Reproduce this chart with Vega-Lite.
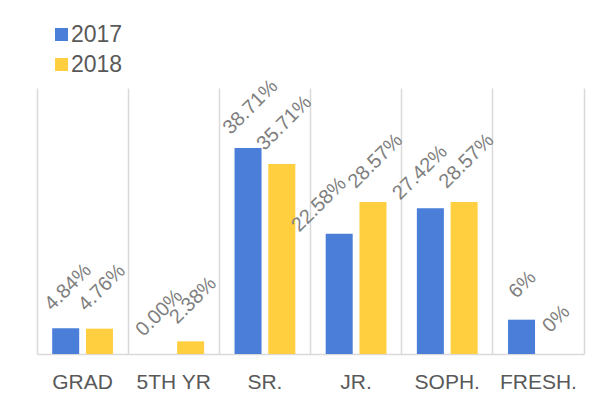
{
  "$schema": "https://vega.github.io/schema/vega-lite/v6.json",
  "width": 547,
  "height": 266,
  "autosize": {"type": "none"},
  "padding": {"left": 37, "top": 88, "right": 26, "bottom": 54},
  "background": "white",
  "data": {"values": [
    {"cat": "GRAD", "year": "2017", "value": 0.0484, "label": "4.84%"},
    {"cat": "GRAD", "year": "2018", "value": 0.0476, "label": "4.76%"},
    {"cat": "5TH YR", "year": "2017", "value": 0.0, "label": "0.00%"},
    {"cat": "5TH YR", "year": "2018", "value": 0.0238, "label": "2.38%"},
    {"cat": "SR.", "year": "2017", "value": 0.3871, "label": "38.71%"},
    {"cat": "SR.", "year": "2018", "value": 0.3571, "label": "35.71%"},
    {"cat": "JR.", "year": "2017", "value": 0.2258, "label": "22.58%"},
    {"cat": "JR.", "year": "2018", "value": 0.2857, "label": "28.57%"},
    {"cat": "SOPH.", "year": "2017", "value": 0.2742, "label": "27.42%"},
    {"cat": "SOPH.", "year": "2018", "value": 0.2857, "label": "28.57%"},
    {"cat": "FRESH.", "year": "2017", "value": 0.0645, "label": "6%"},
    {"cat": "FRESH.", "year": "2018", "value": 0.0, "label": "0%"}
  ]},
  "encoding": {
    "x": {
      "field": "cat", "type": "nominal",
      "sort": ["GRAD", "5TH YR", "SR.", "JR.", "SOPH.", "FRESH."],
      "scale": {"paddingInner": 0, "paddingOuter": 0},
      "axis": {
        "title": null, "grid": true, "gridColor": "#d9d9d9", "gridWidth": 1.5,
        "bandPosition": 0, "ticks": false, "domainColor": "#d9d9d9", "domainWidth": 1.5,
        "labelAngle": 0, "labelFont": "Liberation Sans", "labelFontSize": 21,
        "labelColor": "#595959", "labelPadding": 17
      }
    },
    "xOffset": {"field": "year", "type": "nominal", "scale": {"paddingInner": 0.2, "paddingOuter": 0.45}},
    "y": {
      "field": "value", "type": "quantitative",
      "scale": {"domain": [0, 0.5]},
      "axis": {"orient": "right", "title": null, "labels": false, "ticks": false, "grid": false,
               "domain": true, "domainColor": "#d9d9d9", "domainWidth": 1.5}
    }
  },
  "layer": [
    {
      "mark": {"type": "bar"},
      "encoding": {
        "color": {
          "field": "year", "type": "nominal",
          "scale": {"domain": ["2017", "2018"], "range": ["#4a7ed9", "#ffcf40"]},
          "legend": {
            "title": null, "orient": "none", "legendX": 13, "legendY": -65,
            "symbolType": "square", "symbolSize": 169, "symbolStrokeWidth": 0,
            "labelFont": "Liberation Sans", "labelFontSize": 23, "labelColor": "#595959",
            "labelOffset": -2, "rowPadding": 6, "padding": 0
          }
        }
      }
    },
    {
      "transform": [{"filter": "length(datum.label) >= 5 && datum.label != '22.58%' && datum.label != '27.42%'"}],
      "mark": {"type": "text", "angle": 315, "radius": 41, "theta": 0.06,
               "align": "center", "baseline": "middle",
               "font": "Liberation Sans", "fontSize": 20, "color": "#7f7f7f"},
      "encoding": {"text": {"field": "label"}}
    },
    {
      "transform": [{"filter": "datum.label == '22.58%'"}],
      "mark": {"type": "text", "angle": 315, "radius": 35.5, "theta": 5.68,
               "align": "center", "baseline": "middle",
               "font": "Liberation Sans", "fontSize": 20, "color": "#7f7f7f"},
      "encoding": {"text": {"field": "label"}}
    },
    {
      "transform": [{"filter": "datum.label == '27.42%'"}],
      "mark": {"type": "text", "angle": 315, "radius": 37, "theta": 6.0,
               "align": "center", "baseline": "middle",
               "font": "Liberation Sans", "fontSize": 20, "color": "#7f7f7f"},
      "encoding": {"text": {"field": "label"}}
    },
    {
      "transform": [{"filter": "length(datum.label) <= 4"}],
      "mark": {"type": "text", "angle": 315, "radius": 35, "theta": 0.03,
               "align": "center", "baseline": "middle",
               "font": "Liberation Sans", "fontSize": 20, "color": "#7f7f7f"},
      "encoding": {"text": {"field": "label"}}
    }
  ],
  "config": {"view": {"stroke": null}}
}
